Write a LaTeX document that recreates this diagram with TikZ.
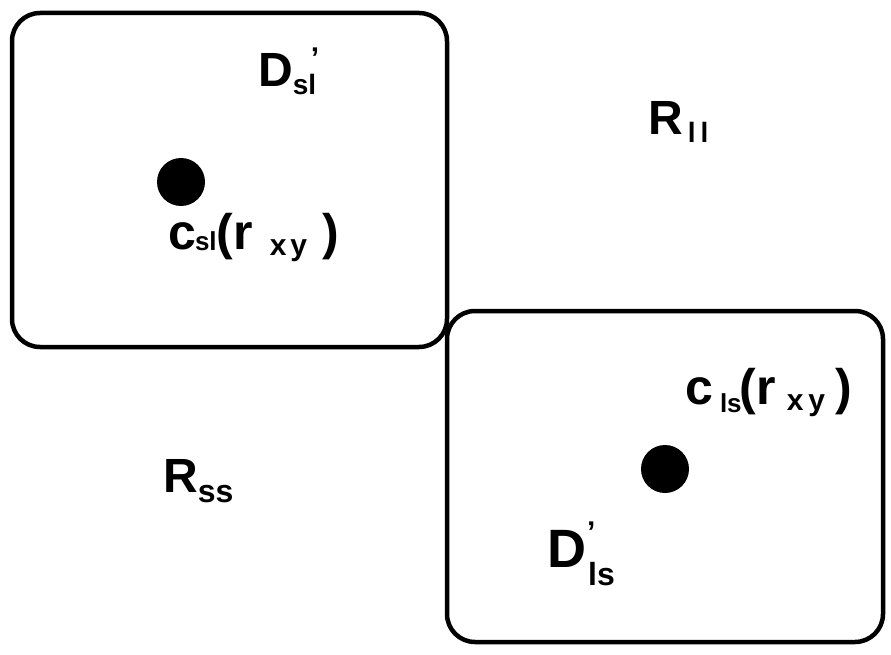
\documentclass[tikz,border=0pt]{standalone}
\usepackage{fontspec}
\setmainfont{Liberation Sans}
\usepackage{tikz}
\usetikzlibrary{positioning}
\newcommand{\lowsub}[3]{\raisebox{-#1pt}{\fontsize{#2}{#2}\selectfont #3}}
\newcommand{\primemark}[3]{\rlap{\hspace{#1pt}\raisebox{#2pt}{\fontsize{#3}{#3}\selectfont ’}}}

\begin{document}
\begin{tikzpicture}[x=1pt, y=-1pt,
  region/.style={draw, line width=4.5pt, rounded corners=28pt, inner sep=0pt},
  centre/.style={circle, fill, inner sep=0pt, minimum size=48pt},
  lbl/.style={anchor=base west, inner sep=0pt, font=\bfseries\fontsize{48}{48}\selectfont},
  clbl/.style={lbl, font=\bfseries\fontsize{50}{50}\selectfont}
]
\useasboundingbox (0,0) rectangle (891,655);
\node[region, minimum width=435pt, minimum height=334pt] (boxsl) at (229.5,180) {};
\node[region, minimum width=436pt, minimum height=331pt] (boxls) at (665,476.5) {};

\node[centre] (dotsl) at (181,182) {};
\node[centre] (dotls) at (665,469) {};

\node[lbl] (Dsl) at (258,87) {D\primemark{18}{18}{30}\lowsub{8}{28}{sl}};
\node[lbl] (Rll) at (648,135) {R\hspace{5pt}\lowsub{8}{28}{l\hspace{5pt}l}};
\node[lbl] (Rss) at (163,492) {R\lowsub{10}{32}{ss}};
\node[clbl] (csl) at (168,249) {c\hspace{-1pt}\lowsub{1}{26}{sl}(r\hspace{17pt}\lowsub{6}{30}{x\hspace{4pt}y}\hspace{15pt})};
\node[clbl] (cls) at (685,404) {c\hspace{7pt}\lowsub{8}{26}{ls}\hspace{-2pt}(r\hspace{11pt}\lowsub{6}{30}{x\hspace{5pt}y}\hspace{10pt})};
\node[lbl, font=\bfseries\fontsize{54}{54}\selectfont] (Dls) at (547,567) {D\primemark{1}{25}{30}\hspace{2pt}\lowsub{18}{32}{ls}};
\end{tikzpicture}
\end{document}
